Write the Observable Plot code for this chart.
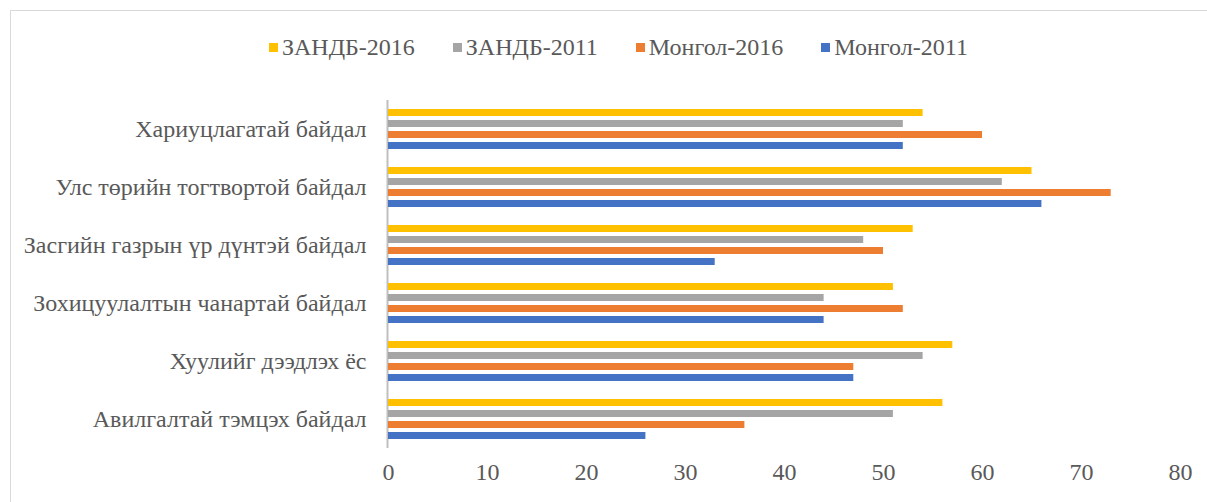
<!DOCTYPE html>
<html>
<head>
<meta charset="utf-8">
<script src="https://cdn.jsdelivr.net/npm/d3@7"></script>
<script src="https://cdn.jsdelivr.net/npm/@observablehq/plot@0.6"></script>
<style>
  html, body { margin: 0; padding: 0; background: #fff; }
  #wrap { position: relative; width: 1207px; height: 502px; overflow: hidden; font-family: "Liberation Serif", "Times New Roman", serif; }
  #frame { position: absolute; left: 10px; top: 10px; width: 1220px; height: 520px; border: 1px solid #d9d9d9; box-sizing: border-box; pointer-events: none; }
  #legend { height: 80px; box-sizing: border-box; padding-top: 14px; padding-left: 269px; display: flex; align-items: center; gap: 38px; color: #595959; font-size: 24px; }
  .item { display: flex; align-items: center; }
  .sw { width: 9px; height: 9px; margin-right: 4px; }
  svg { display: block; }
</style>
</head>
<body>
<div id="wrap">
  <div id="frame"></div>
  <div id="legend"></div>
  <div id="chart"></div>
</div>
<script>
const categories = [
  "Хариуцлагатай байдал",
  "Улс төрийн тогтвортой байдал",
  "Засгийн газрын үр дүнтэй байдал",
  "Зохицуулалтын чанартай байдал",
  "Хуулийг дээдлэх ёс",
  "Авилгалтай тэмцэх байдал"
];
const series = ["ЗАНДБ-2016", "ЗАНДБ-2011", "Монгол-2016", "Монгол-2011"];
const colors = ["#FFC000", "#A5A5A5", "#ED7D31", "#4472C4"];
const zandb2016 = [54, 65, 53, 51, 57, 56];
const zandb2011 = [52, 62, 48, 44, 54, 51];
const mongol2016 = [60, 73, 50, 52, 47, 36];
const mongol2011 = [52, 66, 33, 44, 47, 26];
const xTicks = [0, 10, 20, 30, 40, 50, 60, 70, 80];

const seriesValues = [zandb2016, zandb2011, mongol2016, mongol2011];
const data = categories.flatMap((c, i) =>
  series.map((s, j) => ({category: c, series: s, value: seriesValues[j][i]}))
);

// legend
const legend = document.getElementById("legend");
series.forEach((s, j) => {
  const it = document.createElement("div");
  it.className = "item";
  const sw = document.createElement("span");
  sw.className = "sw";
  sw.style.background = colors[j];
  const t = document.createElement("span");
  t.textContent = s;
  it.appendChild(sw);
  it.appendChild(t);
  legend.appendChild(it);
});

const chart = Plot.plot({
  width: 1207,
  height: 422,
  marginLeft: 388,
  marginRight: 27,
  marginTop: 18,
  marginBottom: 52,
  style: {fontFamily: "'Liberation Serif', 'Times New Roman', serif", fontSize: "24px", color: "#595959", background: "transparent"},
  x: {domain: [0, 80]},
  y: {domain: series, axis: null, paddingInner: 0.34, paddingOuter: 0.77},
  fy: {domain: categories, padding: 0, axis: null},
  color: {domain: series, range: colors},
  marks: [
    Plot.ruleX([0], {stroke: "#bfbfbf", strokeWidth: 2, dx: -1}),
    Plot.barX(data, {x: "value", y: "series", fy: "category", fill: "series"}),
    Plot.axisFy({anchor: "left", tickSize: 0, tickPadding: 22, label: null}),
    Plot.axisX({anchor: "bottom", ticks: xTicks, tickSize: 0, tickPadding: 14, label: null})
  ]
});
document.getElementById("chart").appendChild(chart);
</script>
</body>
</html>
